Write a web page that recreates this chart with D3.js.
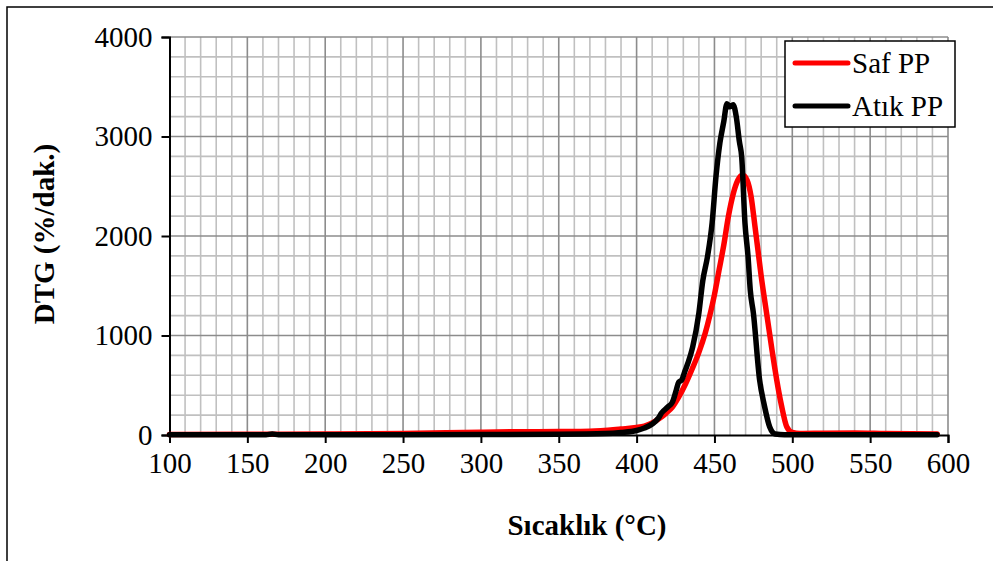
<!DOCTYPE html>
<html>
<head>
<meta charset="utf-8">
<script src="https://cdn.jsdelivr.net/npm/d3@7"></script>
<style>
  body { margin: 0; background: #fff; }
</style>
</head>
<body>
<div id="chart"></div>
<script>
// data
var safTemp = [100, 150, 200, 250, 300, 320, 350, 370, 390, 400, 405, 410, 415, 419, 423, 427, 431, 435, 440, 444, 447, 450, 453, 456, 459, 462, 465, 468, 471, 473.5, 476, 478, 480, 482, 484, 487, 490, 493, 496.5, 500, 505, 520, 540, 560, 593];
var safVal  = [5, 8, 10, 15, 28, 32, 35, 38, 60, 75, 90, 120, 170, 220, 281, 380, 500, 640, 830, 1020, 1200, 1410, 1660, 1910, 2200, 2420, 2560, 2613, 2560, 2400, 2100, 1850, 1600, 1380, 1170, 850, 553, 300, 80, 25, 15, 18, 20, 15, 10];

var atikTemp = [100, 150, 162, 166, 170, 200, 250, 300, 350, 380, 390, 400, 405, 410, 414, 416, 420, 423, 425.5, 427, 429, 431, 433, 436, 440, 442.5, 445.5, 448.5, 451, 453.5, 456, 458, 460, 462, 464, 466, 467.5, 469.6, 471.6, 473, 475, 479, 482, 485.5, 489, 495, 550, 593];
var atikVal  = [3, 3, 3, 10, 3, 2, 3, 5, 8, 15, 25, 45, 70, 110, 170, 221, 281, 330, 452, 530, 553, 640, 724, 884, 1226, 1550, 1790, 2130, 2600, 2935, 3150, 3330, 3300, 3320, 3200, 2950, 2794, 2130, 1790, 1457, 1226, 553, 300, 80, 10, 3, 3, 3];

var xTicks = [100, 150, 200, 250, 300, 350, 400, 450, 500, 550, 600];
var yTicks = [0, 1000, 2000, 3000, 4000];
var seriesNames = ["Saf PP", "Atık PP"];
var seriesColors = ["#ff0000", "#000000"];

var serif = "'Liberation Serif', 'Times New Roman', serif";

// layout
var width = 993, height = 561;
var margin = { top: 37, left: 169.5, right: 45, bottom: 126 };
var plotW = width - margin.left - margin.right;
var plotH = height - margin.top - margin.bottom;

var svg = d3.select("#chart").append("svg")
  .attr("width", width)
  .attr("height", height)
  .style("font-family", serif);

// outer frame (runs off the right and bottom of the picture)
svg.append("rect")
  .attr("x", 7).attr("y", 7)
  .attr("width", width + 20).attr("height", height + 20)
  .attr("fill", "none")
  .attr("stroke", "#000")
  .attr("stroke-width", 1.5);

var g = svg.append("g")
  .attr("transform", `translate(${margin.left}, ${margin.top})`);

var xScale = d3.scaleLinear().domain([100, 600]).range([0, plotW]);
var yScale = d3.scaleLinear().domain([0, 4000]).range([plotH, 0]);

// minor grid
g.append("g").selectAll("line")
  .data(d3.range(110, 601, 10).filter(d => d % 50 !== 0))
  .enter().append("line")
  .attr("x1", d => xScale(d)).attr("x2", d => xScale(d))
  .attr("y1", 0).attr("y2", plotH)
  .attr("stroke", "#c0c0c0").attr("stroke-width", 1.6);
g.append("g").selectAll("line")
  .data(d3.range(200, 4001, 200).filter(d => d % 1000 !== 0))
  .enter().append("line")
  .attr("x1", 0).attr("x2", plotW)
  .attr("y1", d => yScale(d)).attr("y2", d => yScale(d))
  .attr("stroke", "#c0c0c0").attr("stroke-width", 1.6);

// major grid
g.append("g").selectAll("line")
  .data(xTicks.slice(1))
  .enter().append("line")
  .attr("x1", d => xScale(d)).attr("x2", d => xScale(d))
  .attr("y1", 0).attr("y2", plotH)
  .attr("stroke", "#8c8c8c").attr("stroke-width", 1.6);
g.append("g").selectAll("line")
  .data(yTicks.slice(1))
  .enter().append("line")
  .attr("x1", 0).attr("x2", plotW)
  .attr("y1", d => yScale(d)).attr("y2", d => yScale(d))
  .attr("stroke", "#8c8c8c").attr("stroke-width", 1.6);

// axes
var xAxis = d3.axisBottom(xScale).tickValues(xTicks).tickSize(8).tickPadding(5).tickFormat(d3.format("d"));
var yAxis = d3.axisLeft(yScale).tickValues(yTicks).tickSize(8).tickPadding(9).tickFormat(d3.format("d"));

var xg = g.append("g")
  .attr("transform", `translate(0, ${plotH})`)
  .call(xAxis);
var yg = g.append("g").call(yAxis);

[xg, yg].forEach(function(a) {
  a.attr("font-family", null).attr("font-size", null);
  a.select(".domain").attr("stroke", "#000").attr("stroke-width", 2);
  a.selectAll(".tick line").attr("stroke", "#000").attr("stroke-width", 2);
  a.selectAll(".tick text")
    .attr("fill", "#000")
    .style("font-family", serif)
    .style("font-size", "29px");
});
xg.selectAll(".tick text").attr("dy", "0.85em");

// series
var line = d3.line()
  .x(d => xScale(d[0]))
  .y(d => yScale(d[1]))
  .curve(d3.curveMonotoneX);

var seriesData = [
  d3.zip(safTemp, safVal),
  d3.zip(atikTemp, atikVal)
];

g.selectAll(".series")
  .data(seriesData)
  .enter().append("path")
  .attr("class", "series")
  .attr("d", line)
  .attr("fill", "none")
  .attr("stroke", (d, i) => seriesColors[i])
  .attr("stroke-width", 5.5)
  .attr("stroke-linejoin", "round")
  .attr("stroke-linecap", "round");

// axis titles
svg.append("text")
  .attr("transform", "translate(54, 234) rotate(-90)")
  .attr("text-anchor", "middle")
  .style("font-family", serif)
  .style("font-weight", "bold")
  .style("font-size", "29px")
  .text("DTG (%/dak.)");

svg.append("text")
  .attr("x", 587)
  .attr("y", 535)
  .attr("text-anchor", "middle")
  .style("font-family", serif)
  .style("font-weight", "bold")
  .style("font-size", "29px")
  .text("Sıcaklık (°C)");

// legend
var legend = svg.append("g").attr("transform", "translate(785, 41)");
legend.append("rect")
  .attr("width", 170).attr("height", 86)
  .attr("fill", "#fff")
  .attr("stroke", "#000")
  .attr("stroke-width", 1.5);
var items = legend.selectAll(".item")
  .data(seriesNames)
  .enter().append("g")
  .attr("transform", (d, i) => `translate(0, ${22 + i * 43})`);
items.append("line")
  .attr("x1", 10).attr("x2", 63)
  .attr("stroke", (d, i) => seriesColors[i])
  .attr("stroke-width", 5)
  .attr("stroke-linecap", "round");
items.append("text")
  .attr("x", 67)
  .attr("y", 10)
  .style("font-family", serif)
  .style("font-size", "29px")
  .text(d => d);
</script>
</body>
</html>
